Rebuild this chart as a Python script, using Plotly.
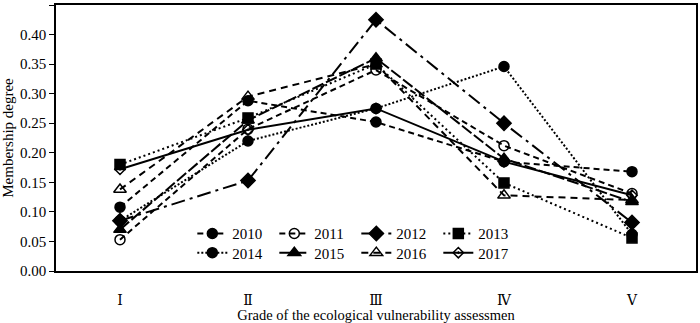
import plotly.graph_objects as go

categories = ["Ⅰ", "Ⅱ", "Ⅲ", "Ⅳ", "Ⅴ"]
years = ["2010", "2011", "2012", "2013", "2014", "2015", "2016", "2017"]
v2010 = [0.108, 0.288, 0.252, 0.185, 0.168]
v2011 = [0.053, 0.240, 0.340, 0.212, 0.131]
v2012 = [0.085, 0.153, 0.425, 0.250, 0.082]
v2013 = [0.180, 0.259, 0.350, 0.149, 0.056]
v2014 = [0.085, 0.220, 0.275, 0.346, 0.062]
v2015 = [0.070, 0.255, 0.360, 0.190, 0.117]
v2016 = [0.138, 0.295, 0.350, 0.128, 0.120]
v2017 = [0.172, 0.239, 0.275, 0.185, 0.128]
values = [v2010, v2011, v2012, v2013, v2014, v2015, v2016, v2017]

dashes = ["6px,4px", "6px,4px", "14px,5px,3px,5px", "2px,3px", "2px,2px", "12px,3px", "7px,5px", "solid"]
symbols = ["circle", "circle-open", "diamond", "square", "circle", "triangle-up", "triangle-up-open", "diamond-open-dot"]
sizes = [10, 10, 11, 10, 10, 11, 11, 8]

fam = "Liberation Serif"
font = dict(family=fam, size=15, color="black")

fig = go.Figure()
for i, (yr, vals) in enumerate(zip(years, values)):
    fig.add_trace(go.Scatter(
        x=categories, y=vals, name=yr, mode="lines+markers",
        line=dict(color="black", width=2, dash=dashes[i]),
        marker=dict(symbol=symbols[i], size=sizes[i], color="black",
                    line=dict(color="black", width=1.5)),
        legend="legend" if i < 4 else "legend2",
    ))

legend_common = dict(orientation="h", xanchor="left", yanchor="middle",
                     bgcolor="rgba(0,0,0,0)", font=font, entrywidth=37,
                     entrywidthmode="pixels", itemwidth=30, tracegroupgap=0)
fig.update_layout(
    width=700, height=323,
    margin=dict(l=56, r=4, t=5, b=52),
    paper_bgcolor="white", plot_bgcolor="white",
    font=font,
    showlegend=True,
    legend=dict(x=0.213, y=0.14, **legend_common),
    legend2=dict(x=0.213, y=0.068, **legend_common),
    xaxis=dict(range=[-0.5, 4.5], showline=True, linecolor="black", linewidth=1.5,
               mirror=True, ticks="", showgrid=False, zeroline=False,
               ticklabelstandoff=15, automargin=False,
               title=dict(text="Grade of the ecological vulnerability assessmen",
                          font=dict(family=fam, size=14.5, color="black"), standoff=4),
               tickfont=dict(family="Liberation Serif, DejaVu Serif, serif", size=14, color="black")),
    yaxis=dict(range=[0, 0.45], dtick=0.05, tickformat=".2f", showline=True,
               linecolor="black", linewidth=1.5, mirror=True, ticks="outside",
               ticklen=5, tickcolor="black", showgrid=False, zeroline=False,
               automargin=False,
               title=dict(text="Membership degree", font=font, standoff=4),
               tickfont=font),
)
fig.write_html("out.html")
